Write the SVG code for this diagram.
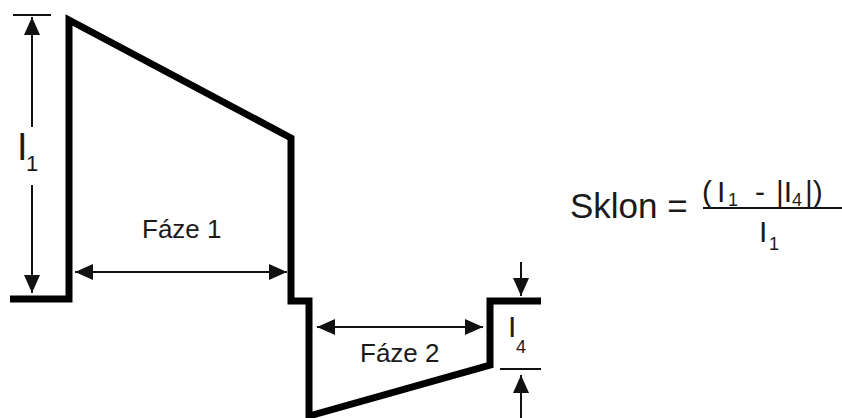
<svg xmlns="http://www.w3.org/2000/svg" width="842" height="418" viewBox="0 0 842 418">
<style>
.wave{fill:none;stroke:#000;stroke-width:7;stroke-linejoin:miter}
.dim{fill:none;stroke:#111;stroke-width:2}
.t{font-family:"Liberation Sans",Arial,sans-serif;fill:#1a1a1a}
</style>
<defs>
<marker id="ah" viewBox="0 0 18 16" refX="18" refY="8" markerWidth="18" markerHeight="16" markerUnits="userSpaceOnUse" orient="auto-start-reverse">
<path d="M0,0 L18,8 L0,16 z" fill="#111"/>
</marker>
</defs>
<g id="waveform">
<path class="wave" d="M10 299 H69 V20 L291 138 V301 H309 V416 L490 365 V301 H541"/>
</g>
<g id="connectors">
<line class="dim" x1="13" y1="15" x2="51" y2="15"/>
<line class="dim" x1="32" y1="127" x2="32" y2="17" marker-end="url(#ah)"/>
<line class="dim" x1="32" y1="185" x2="32" y2="293" marker-end="url(#ah)"/>
<line class="dim" x1="75" y1="272" x2="287" y2="272" marker-start="url(#ah)" marker-end="url(#ah)"/>
<line class="dim" x1="317" y1="327" x2="483" y2="327" marker-start="url(#ah)" marker-end="url(#ah)"/>
<line class="dim" x1="521" y1="262" x2="521" y2="296" marker-end="url(#ah)"/>
<line class="dim" x1="500" y1="369" x2="541" y2="369"/>
<line class="dim" x1="521" y1="418" x2="521" y2="375" marker-end="url(#ah)"/>
<line class="dim" x1="703" y1="208" x2="842" y2="208"/>
</g>
<g id="label-i1">
<text class="t" x="17" y="160" font-size="38">I<tspan x="26" y="171" font-size="22">1</tspan></text>
</g>
<g id="label-faze1">
<text class="t" x="142" y="238" font-size="26">Fáze 1</text>
</g>
<g id="label-faze2">
<text class="t" x="360" y="362" font-size="26">Fáze 2</text>
</g>
<g id="label-i4">
<text class="t" x="508" y="337" font-size="30">I<tspan x="516" y="353" font-size="18">4</tspan></text>
</g>
<g id="formula">
<text class="t" x="570" y="218" font-size="35">Sklon =</text>
<text class="t" y="202" font-size="30"><tspan x="702">(</tspan><tspan x="717">I</tspan><tspan x="728" y="206" font-size="18">1</tspan><tspan x="755" y="202">-</tspan><tspan x="776">|I</tspan><tspan x="792" y="206" font-size="18">4</tspan><tspan x="805" y="202">|)</tspan></text>
<text class="t" x="759" y="242" font-size="30">I<tspan x="769" y="250" font-size="18">1</tspan></text>
</g>
</svg>
